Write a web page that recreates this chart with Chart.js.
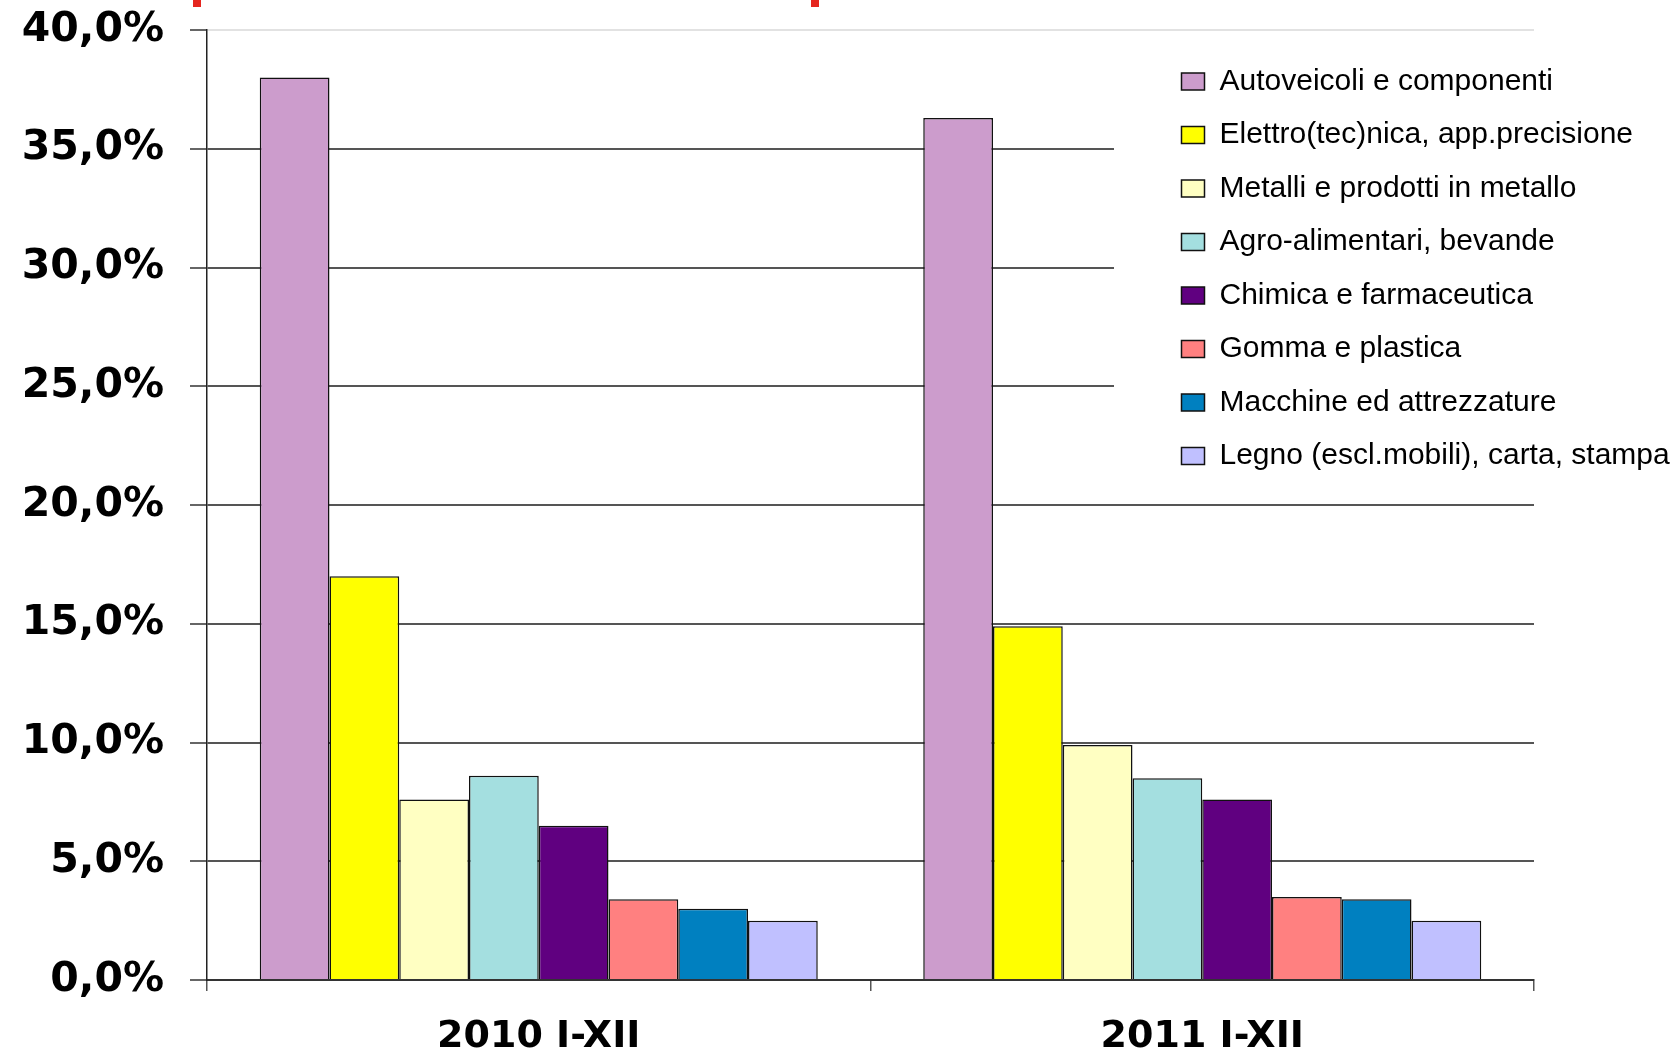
<!DOCTYPE html>
<html>
<head>
<meta charset="utf-8">
<script src="https://cdn.jsdelivr.net/npm/chart.js@4.4.1/dist/chart.umd.min.js"></script>
<style>
  html, body { margin: 0; padding: 0; background: #fff; }
  #wrap { position: relative; width: 1680px; height: 1050px; overflow: hidden; background: #fff; }
  .accent { position: absolute; top: 0; width: 8px; height: 7px; background: #e5261f; }
</style>
</head>
<body>
<div id="wrap">
  <canvas id="chart" width="1680" height="1050"></canvas>
  <div class="accent" style="left:193px"></div>
  <div class="accent" style="left:811px"></div>
</div>
<script>
// Periods on the category axis
const periods = ['2010 I-XII', '2011 I-XII'];

// Sectors (one dataset each)
const sectors = [
  'Autoveicoli e componenti',
  'Elettro(tec)nica, app.precisione',
  'Metalli e prodotti in metallo',
  'Agro-alimentari, bevande',
  'Chimica e farmaceutica',
  'Gomma e plastica',
  'Macchine ed attrezzature',
  'Legno (escl.mobili), carta, stampa'
];

const sectorColors = [
  '#cc9ccc', '#ffff00', '#ffffc2', '#a4dfe0',
  '#600080', '#ff8080', '#0080c0', '#c0c0ff'
];

// Share of total, percent
const share2010 = [38.0, 17.0, 7.6, 8.6, 6.5, 3.4, 3.0, 2.5];
const share2011 = [36.3, 14.9, 9.9, 8.5, 7.6, 3.5, 3.4, 2.5];

// Value axis labels
const yTickLabels = ['0,0%', '5,0%', '10,0%', '15,0%', '20,0%', '25,0%', '30,0%', '35,0%', '40,0%'];

const datasets = sectors.map((name, i) => ({
  label: name,
  data: [share2010[i], share2011[i]],
  backgroundColor: sectorColors[i],
  borderColor: '#111',
  borderWidth: 1.5,
  categoryPercentage: 0.841,
  barPercentage: 1.0
}));

// Legend sits over the right part of the plot on a white panel
const legendPanel = {
  id: 'legendPanel',
  afterLayout(chart) {
    const lg = chart.legend;
    lg.left = 1158;
    lg.top = 43;
    lg.right = 1680;
    lg.bottom = 1050;
    lg.width = lg.right - lg.left;
    lg.height = lg.bottom - lg.top;
  },
  beforeDatasetsDraw(chart) {
    const ctx = chart.ctx;
    ctx.save();
    ctx.fillStyle = '#ffffff';
    ctx.fillRect(1114, 40, 566, 440);
    ctx.restore();
    chart.legend.draw();
  }
};

new Chart(document.getElementById('chart'), {
  type: 'bar',
  data: { labels: periods, datasets },
  plugins: [legendPanel],
  options: {
    responsive: false,
    animation: false,
    devicePixelRatio: 1,
    layout: { padding: { top: 30, right: 146, left: 0, bottom: 0 } },
    plugins: {
      tooltip: { enabled: false },
      legend: {
        position: 'chartArea',
        align: 'start',
        labels: {
          boxWidth: 23,
          boxHeight: 17,
          padding: 23.5,
          color: '#000',
          font: { family: 'Liberation Sans', size: 30 }
        }
      }
    },
    scales: {
      x: {
        offset: true,
        grid: {
          offset: true,
          drawOnChartArea: false,
          drawTicks: true,
          tickLength: 11,
          color: '#555',
          lineWidth: 1.5
        },
        border: { color: '#333', width: 2 },
        ticks: {
          padding: 23,
          color: '#000',
          maxRotation: 0,
          font: { family: 'DejaVu Sans', weight: 'bold', size: 38 }
        },
        afterFit(scale) { scale.height = 70; }
      },
      y: {
        min: 0,
        max: 40,
        ticks: {
          stepSize: 5,
          padding: 26,
          color: '#000',
          font: { family: 'DejaVu Sans', weight: 'bold', size: 41 },
          callback: (value, index) => yTickLabels[index]
        },
        grid: {
          color: (c) => (c.tick && c.tick.value === 40 ? '#e2e2e2' : '#555'),
          lineWidth: 2,
          tickLength: 17,
          tickColor: '#333',
          tickWidth: 1.5
        },
        border: { color: '#222', width: 1.5 },
        afterFit(scale) {
          scale.width = 207;
          scale.paddingTop = 0;
          scale.paddingBottom = 0;
        }
      }
    }
  }
});
</script>
</body>
</html>
